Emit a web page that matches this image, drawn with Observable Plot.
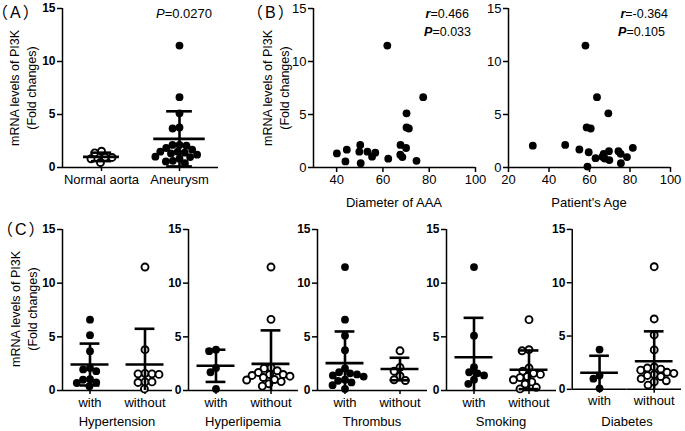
<!DOCTYPE html>
<html><head><meta charset="utf-8">
<script src="https://cdn.jsdelivr.net/npm/d3@7"></script>
<script src="https://cdn.jsdelivr.net/npm/@observablehq/plot@0.6"></script>
<style>
body{margin:0;background:#fff;}
#fig{position:relative;width:685px;height:431px;overflow:hidden;font-family:"Liberation Sans",Arial,sans-serif;color:#000;background:#fff;}
.t{position:absolute;white-space:nowrap;transform:translate(-50%,-50%);line-height:1;}
.l{position:absolute;white-space:nowrap;transform:translate(0,-50%);line-height:1;}
.r{position:absolute;white-space:nowrap;transform:translate(-100%,-50%);line-height:1;}
.rot{position:absolute;white-space:nowrap;transform:translate(-50%,-50%) rotate(-90deg);text-align:center;line-height:17px;}
.w{position:absolute;}
.cjk{font-family:"Noto Sans CJK SC",sans-serif;font-feature-settings:"halt" 1;letter-spacing:2px;}
.cjk .a{font-family:"Liberation Sans",Arial,sans-serif;}
.boldy g[aria-label="y-axis tick label"]{font-weight:bold;}
</style></head><body><div id="fig"></div>
<script>
// ---------- data ----------
const yTicks = [0, 5, 10, 15];

// Panel A
const aGroups = ["Normal aorta", "Aneurysm"];
const normalAorta = [1.54, 1.38, 0.97, 0.95, 0.82, 0.47];
const aneurysm = [11.5, 6.63, 5.11, 3.78, 3.68, 2.13, 2.13, 2.06, 1.84, 1.68, 1.49, 1.49, 1.40, 1.33, 1.21, 1.02, 0.98, 0.83, 0.63, 0.57, 0.41];
const aMeans = [1.0, 2.7];
const aSDs = [0.4, 2.6];

// Panel B
const diameter      = [40.1, 43.8, 44.4, 50.2, 49.8, 50.4, 53.3, 55.3, 56.7, 61.9, 62.3, 67.6, 67.5, 68.4, 70.0, 70.2, 70.2, 71.2, 74.5, 77.4];
const diameterValue = [1.33, 0.57, 1.68, 2.13, 1.49, 0.41, 1.49, 1.02, 1.40, 11.5, 0.83, 2.13, 1.21, 0.98, 1.84, 5.11, 3.78, 3.68, 0.63, 6.63];
const diameterTicks = [40, 60, 80, 100];
const age      = [32, 48, 55, 58, 58.6, 60.6, 59.6, 59, 63, 63.7, 66.4, 67, 67.5, 69.3, 69.6, 69.8, 74.3, 75.4, 75.5, 78.5, 81.4];
const ageValue = [2.06, 2.13, 1.70, 11.5, 3.78, 3.68, 1.44, 0.09, 0.88, 6.63, 1.02, 1.29, 0.85, 5.11, 1.54, 0.70, 1.54, 1.29, 0.41, 0.98, 1.86];
const ageTicks = [20, 40, 60, 80, 100];

// Panel C
const cFactors = ["Hypertension", "Hyperlipemia", "Thrombus", "Smoking", "Diabetes"];
const cLevels = ["with", "without"];
const cWith = [
  [6.6, 5.15, 3.66, 2.1, 1.96, 1.8, 1.05, 1.0, 0.75, 0.7, 0.4],
  [3.8, 3.66, 2.1, 1.7, 0.15],
  [11.5, 6.6, 5.1, 3.76, 2.05, 1.7, 1.6, 1.5, 1.4, 1.3, 1.0, 0.9, 0.75, 0.5, 0.15],
  [11.5, 5.1, 2.17, 1.7, 1.6, 1.4, 1.0, 0.62],
  [3.73, 1.3, 1.0, 0.1]
];
const cWithout = [
  [11.5, 3.8, 1.6, 1.55, 1.55, 1.5, 0.8, 0.75, 0.8, 0.15],
  [11.5, 6.63, 2.13, 2.06, 1.84, 1.68, 1.49, 1.49, 1.40, 1.33, 1.21, 1.02, 0.98, 0.83, 0.63, 0.41],
  [3.7, 2.15, 1.8, 1.35, 1.0, 0.93],
  [6.6, 3.8, 3.7, 2.1, 1.8, 1.6, 1.5, 1.3, 1.2, 1.0, 0.8, 0.6, 0.3, 0.15],
  [11.5, 6.6, 5.1, 3.7, 2.1, 2.0, 1.9, 1.8, 1.6, 1.5, 1.4, 1.3, 1.2, 1.0, 0.8, 0.7, 0.4]
];
const cMeans = [[2.42, 2.42], [2.3, 2.48], [2.55, 2.0], [3.1, 1.93], [1.55, 2.64]];
const cSDs   = [[1.95, 3.33], [1.5, 3.12], [2.95, 1.05], [3.67, 1.8], [1.6, 2.8]];

// ---------- helpers ----------
const fig = document.getElementById("fig");
const FONT = '"Liberation Sans", Arial, sans-serif';
function place(node, left, top, cls) {
  const w = document.createElement("div");
  w.className = "w" + (cls ? " " + cls : ""); w.style.left = left + "px"; w.style.top = top + "px";
  w.appendChild(node); fig.appendChild(w);
}
function text(cls, x, y, html, size) {
  const d = document.createElement("div");
  d.className = cls; d.style.left = x + "px"; d.style.top = y + "px";
  d.style.fontSize = size + "px"; d.innerHTML = html;
  fig.appendChild(d);
}
const BAR = 2.6, AX = 1.5;

function catPanel(o) {
  const rows = [];
  o.groups.forEach((g, i) => o.values[i].forEach(v => rows.push({g, v, open: o.open[i]})));
  const stats = o.groups.map((g, i) => ({
    g, mean: o.means[i], hi: o.means[i] + o.sds[i],
    lo: Math.max(0, o.means[i] - o.sds[i]), low: o.means[i] - o.sds[i],
    mw: o.meanHalf[i], cw: o.capHalf[i]
  }));
  return Plot.plot({
    width: o.width, height: o.height,
    marginLeft: o.ml, marginRight: o.mr, marginTop: o.mt, marginBottom: o.mb,
    style: {fontFamily: FONT, fontSize: "12px", color: "#000", background: "transparent", overflow: "visible"},
    x: {domain: [-1, 1], axis: null},
    y: {domain: [0, 15], axis: null},
    fx: {domain: o.groups, padding: 0, axis: null},
    marks: [
      Plot.ruleY([0], {stroke: "#000", strokeWidth: AX}),
      Plot.ruleX([o.groups[0]], {fx: d => d, x: -1, y1: 0, y2: 15, stroke: "#000", strokeWidth: AX}),
      Plot.axisY({ticks: yTicks, tickSize: 5, tickPadding: 2, label: null, fontSize: 12, strokeWidth: AX, facetAnchor: "left"}),
      Plot.axisFx({anchor: "bottom", tickSize: 4, tickPadding: 3, label: null, fontSize: 13, strokeWidth: AX}),
      Plot.dot(rows.filter(d => !d.open), Plot.dodgeX({anchor: "middle", padding: -0.8}, {fx: "g", y: "v", r: 3.9, fill: "#000"})),
      Plot.dot(rows.filter(d => d.open), Plot.dodgeX({anchor: "middle", padding: 0}, {fx: "g", y: "v", r: 3.5, fill: "#fff", stroke: "#000", strokeWidth: 1.9})),
      Plot.ruleX(stats, {fx: "g", x: 0, y1: "lo", y2: "hi", stroke: "#000", strokeWidth: BAR}),
      Plot.ruleY(stats, {fx: "g", y: "mean", x1: d => -d.mw, x2: d => d.mw, stroke: "#000", strokeWidth: BAR}),
      Plot.ruleY(stats, {fx: "g", y: "hi", x1: d => -d.cw, x2: d => d.cw, stroke: "#000", strokeWidth: BAR}),
      Plot.ruleY(stats.filter(d => d.low >= 0), {fx: "g", y: "lo", x1: d => -d.cw, x2: d => d.cw, stroke: "#000", strokeWidth: BAR})
    ]
  });
}

function scatterPanel(o) {
  const pts = o.xs.map((x, i) => ({x, y: o.ys[i]}));
  return Plot.plot({
    width: o.width, height: o.height,
    marginLeft: o.ml, marginRight: o.mr, marginTop: o.mt, marginBottom: o.mb,
    style: {fontFamily: FONT, fontSize: "13px", color: "#000", background: "transparent", overflow: "visible"},
    x: {domain: o.xDomain, axis: null},
    y: {domain: [0, 15], axis: null},
    marks: [
      Plot.ruleY([0], {stroke: "#000", strokeWidth: AX}),
      Plot.ruleX([o.xDomain[0]], {stroke: "#000", strokeWidth: AX}),
      Plot.axisY({ticks: yTicks, tickSize: 5, tickPadding: 2, label: null, fontSize: 13, strokeWidth: AX}),
      Plot.axisX({ticks: o.xTicks, tickSize: 5, tickPadding: 2, label: null, fontSize: 13, strokeWidth: AX}),
      Plot.dot(pts, {x: "x", y: "y", r: 3.9, fill: "#000"})
    ]
  });
}

// ---------- Panel A ----------
place(catPanel({
  groups: aGroups, values: [normalAorta, aneurysm], open: [true, false],
  means: aMeans, sds: aSDs, meanHalf: [0.46, 0.66], capHalf: [0.26, 0.33],
  width: 230, height: 200, ml: 61, mr: 12, mt: 8, mb: 33
}), 0, 0, "boldy");

// ---------- Panel B ----------
place(scatterPanel({xs: diameter, ys: diameterValue, xDomain: [30, 100], xTicks: diameterTicks,
  width: 240, height: 200, ml: 73, mr: 5, mt: 8, mb: 33}), 240, 0);
place(scatterPanel({xs: age, ys: ageValue, xDomain: [20, 100], xTicks: ageTicks,
  width: 215, height: 200, ml: 38, mr: 15, mt: 8, mb: 33}), 470, 0);

// ---------- Panel C ----------
const cAxisX = [62, 188, 317, 446, 572];
cFactors.forEach((f, i) => {
  place(catPanel({
    groups: cLevels, values: [cWith[i], cWithout[i]], open: [false, true],
    means: cMeans[i], sds: cSDs[i], meanHalf: [0.69, 0.69], capHalf: [0.36, 0.36],
    width: 154, height: 200, ml: 40, mr: 4, mt: 14, mb: 25
  }), cAxisX[i] - 40, 215, "boldy");
  text("t", cAxisX[i] + 55, 421, f, 13);
});

// ---------- text ----------
const yLab = "mRNA levels of PI3K<br>(Fold changes)";
text("rot", 24, 88, yLab, 12.5);
text("rot", 277, 88, yLab, 12.5);
text("rot", 25, 309, yLab, 12.5);

const tag = c => `（<span class="a">${c}</span>）`;
text("l cjk", 0, 12, tag("A"), 16);
text("l cjk", 255, 12, tag("B"), 16);
text("l cjk", 5, 229, tag("C"), 16);

text("r", 212, 13, "<i>P</i>=0.0270", 13);
text("r", 469, 14, "<b><i>r</i></b>=0.466", 12.5);
text("r", 471, 32, "<b><i>P</i></b>=0.033", 12.5);
text("r", 668, 14, "<b><i>r</i></b>=-0.364", 12.5);
text("r", 665, 32, "<b><i>P</i></b>=0.105", 12.5);

text("t", 394, 202, "Diameter of AAA", 13);
text("t", 589, 202, "Patient's Age", 13);
</script></body></html>
